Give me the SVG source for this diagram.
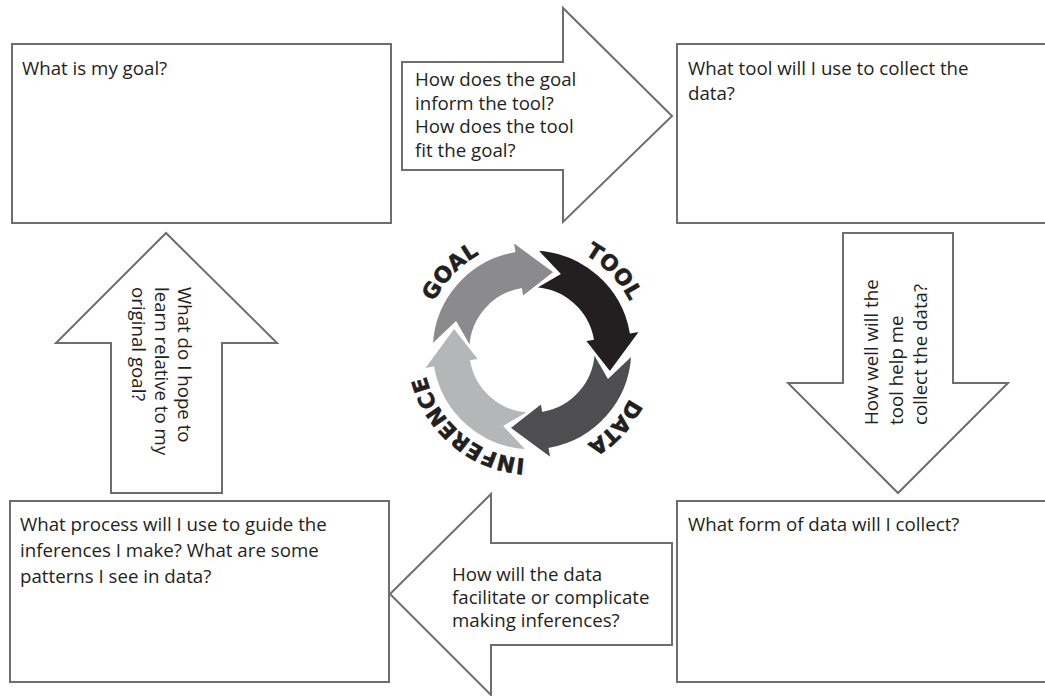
<svg xmlns="http://www.w3.org/2000/svg" width="1045" height="696" viewBox="0 0 1045 696">
<style>
.box{fill:#fff;stroke:#6e6e6e;stroke-width:2}
.arr{fill:#fff;stroke:#6e6e6e;stroke-width:2;stroke-linejoin:miter}
.t{font-family:"Open Sans","Liberation Sans",sans-serif;font-size:18.7px;fill:#231f20}
.lbl{font-family:"DejaVu Sans","Liberation Sans",sans-serif;font-weight:900;font-size:21.5px;fill:#231f20;stroke:#231f20;stroke-width:0.6;letter-spacing:0.3px}
.cyc{stroke:#fff;stroke-width:1.5;stroke-linejoin:miter}
</style>
<defs>
<path id="ring" d="M 641 350 A 109 109 0 1 1 423 350 A 109 109 0 1 1 641 350"/>
</defs>
<rect width="1045" height="696" fill="#fff"/>

<g id="box-goal">
<rect class="box" x="12" y="44" width="379" height="179"/>
<text class="t" x="22" y="75">What is my goal?</text>
</g>

<g id="box-tool">
<rect class="box" x="677" y="44" width="380" height="179"/>
<text class="t" x="688" y="75">What tool will I use to collect the<tspan x="688" dy="25">data?</tspan></text>
</g>

<g id="box-data">
<rect class="box" x="677" y="501" width="380" height="181"/>
<text class="t" x="688" y="531">What form of data will I collect?</text>
</g>

<g id="box-inference">
<rect class="box" x="10" y="501" width="379" height="181"/>
<text class="t" x="20" y="531">What process will I use to guide the<tspan x="20" dy="26">inferences I make? What are some</tspan><tspan x="20" dy="26">patterns I see in data?</tspan></text>
</g>

<g id="connectors">
<g id="arrow-goal-tool">
<polygon class="arr" points="402,62 563,62 563,8 672,116 563,222 563,170 402,170"/>
<text class="t" x="415" y="86">How does the goal<tspan x="415" dy="23.7">inform the tool?</tspan><tspan x="415" dy="23.7">How does the tool</tspan><tspan x="415" dy="23.7">fit the goal?</tspan></text>
</g>
<g id="arrow-tool-data">
<polygon class="arr" points="843,233 953,233 953,383 1008,383 898,493 788,383 843,383"/>
<text class="t" transform="translate(878,425) rotate(-90)" x="0" y="0">How well will the<tspan x="0" dy="24.5">tool help me</tspan><tspan x="0" dy="24.5">collect the data?</tspan></text>
</g>
<g id="arrow-data-inference">
<polygon class="arr" points="672,543 672,645 491,645 491,695 390,594 491,494 491,543"/>
<text class="t" x="452" y="581">How will the data<tspan x="452" dy="23">facilitate or complicate</tspan><tspan x="452" dy="23">making inferences?</tspan></text>
</g>
<g id="arrow-inference-goal">
<polygon class="arr" points="111,493 111,343 56,343 166,233 277,343 222,343 222,493"/>
<text class="t" transform="translate(178,287) rotate(90)" x="0" y="0">What do I hope to<tspan x="0" dy="23">learn relative to my</tspan><tspan x="0" dy="23">original goal?</tspan></text>
</g>
</g>

<g id="cycle">
<path id="arrow-goal" class="cyc" fill="#8b8b8d" d="M 432.1 344.8 A 100 100 0 0 1 514.6 251.5 L 512.9 241.7 L 554.3 272.1 L 522.6 296.8 L 521.2 288.9 A 62 62 0 0 0 470.1 346.8 L 455.9 322.3 Z"/>
<path id="arrow-tool" class="cyc" fill="#231f20" d="M 537.2 250.1 A 100 100 0 0 1 630.5 332.6 L 640.3 330.9 L 609.9 372.3 L 585.2 340.6 L 593.1 339.2 A 62 62 0 0 0 535.2 288.1 L 559.7 273.9 Z"/>
<path id="arrow-data" class="cyc" fill="#4e4e50" d="M 631.9 355.2 A 100 100 0 0 1 549.4 448.5 L 551.1 458.3 L 509.7 427.9 L 541.4 403.2 L 542.8 411.1 A 62 62 0 0 0 593.9 353.2 L 608.1 377.7 Z"/>
<path id="arrow-inference" class="cyc" fill="#b5b6b8" d="M 526.8 449.9 A 100 100 0 0 1 433.5 367.4 L 423.7 369.1 L 454.1 327.7 L 478.8 359.4 L 470.9 360.8 A 62 62 0 0 0 528.8 411.9 L 504.3 426.1 Z"/>
<text class="lbl"><textPath href="#ring" startOffset="425.4" text-anchor="middle">GOAL</textPath></text>
<text class="lbl"><textPath href="#ring" startOffset="601.2" text-anchor="middle">TOOL</textPath></text>
<text class="lbl"><textPath href="#ring" startOffset="81.8" text-anchor="middle">DATA</textPath></text>
<text class="lbl"><textPath href="#ring" startOffset="247.3" text-anchor="middle">INFERENCE</textPath></text>
</g>
</svg>
